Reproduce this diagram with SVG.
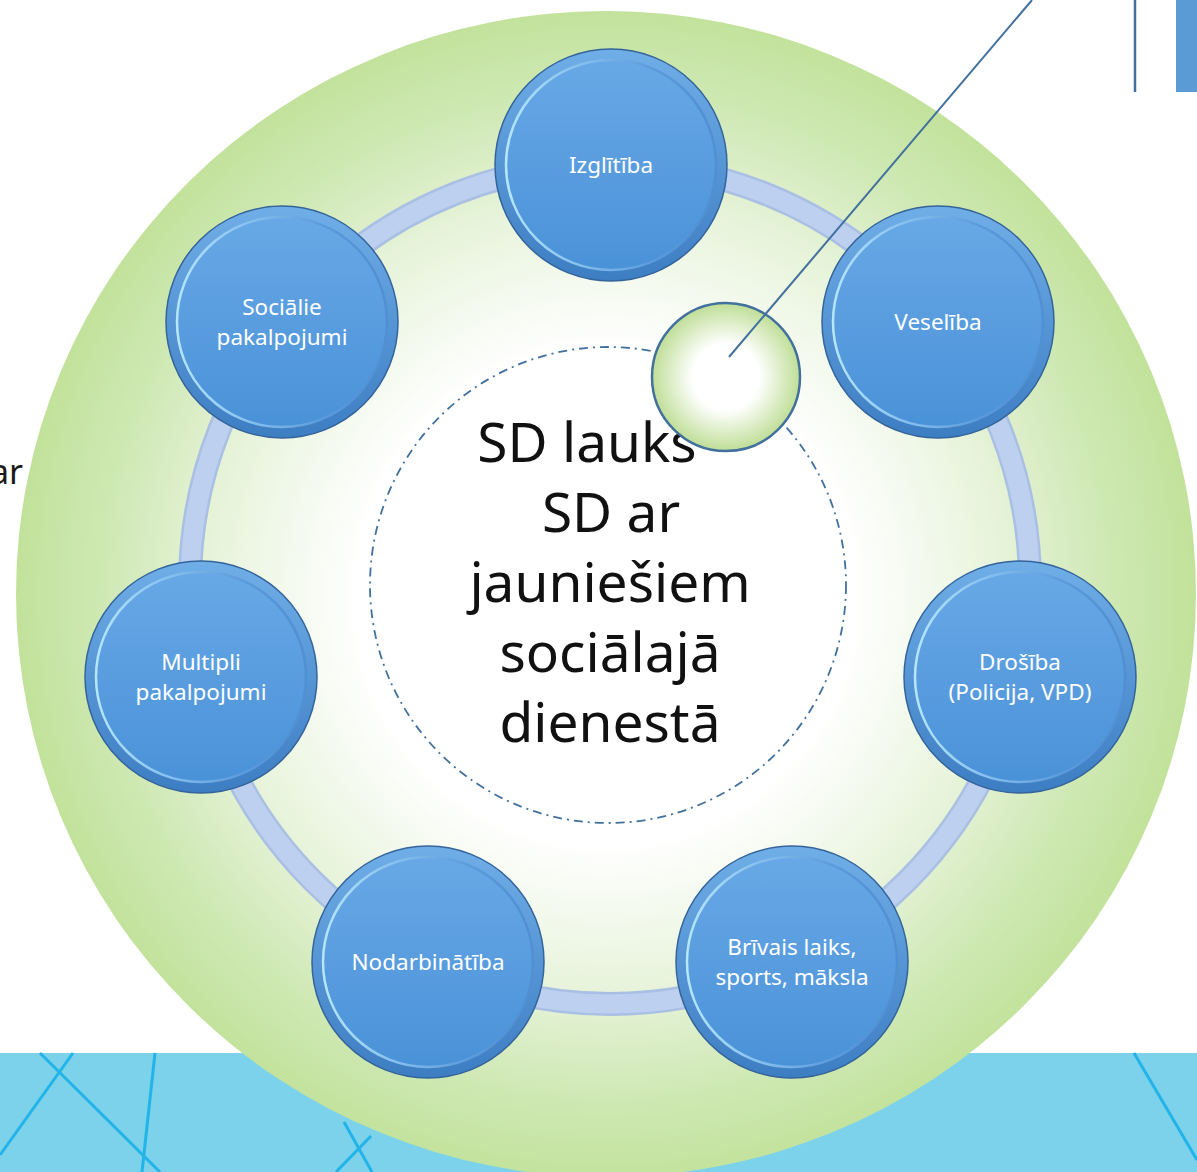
<svg xmlns="http://www.w3.org/2000/svg" width="1197" height="1172" viewBox="0 0 1197 1172">
<defs>
<radialGradient id="bigG" gradientUnits="userSpaceOnUse" cx="606" cy="596" r="590">
<stop offset="0" stop-color="#FFFFFF"/>
<stop offset="0.42" stop-color="#FFFFFF"/>
<stop offset="0.66" stop-color="#E8F4DC"/>
<stop offset="0.84" stop-color="#D0E9B6"/>
<stop offset="1" stop-color="#C2E29B"/>
</radialGradient>
<radialGradient id="smallG" cx="0.5" cy="0.5" r="0.5">
<stop offset="0" stop-color="#FFFFFF"/>
<stop offset="0.45" stop-color="#FFFFFF"/>
<stop offset="1" stop-color="#BFDE97"/>
</radialGradient>
<linearGradient id="rimG" x1="0" y1="0" x2="0" y2="1">
<stop offset="0" stop-color="#70AEE8"/>
<stop offset="1" stop-color="#3D7DC2"/>
</linearGradient>
<linearGradient id="faceG" x1="0" y1="0" x2="0" y2="1">
<stop offset="0" stop-color="#68A8E6"/>
<stop offset="1" stop-color="#4A92D8"/>
</linearGradient>
<linearGradient id="hiG" x1="0" y1="0.5" x2="1" y2="0.5">
<stop offset="0" stop-color="#B5E6FA"/>
<stop offset="0.35" stop-color="#86C0EE"/>
<stop offset="0.7" stop-color="#5B9ADB"/>
<stop offset="1" stop-color="#4F8FD2"/>
</linearGradient>
<g id="node">
<circle r="116" fill="url(#rimG)" stroke="#34649A" stroke-width="1.5"/>
<circle r="105" fill="url(#faceG)" stroke="url(#hiG)" stroke-width="2.5"/>
</g>
</defs>
<style>
.lbl{font-family:"Noto Sans","Open Sans","DejaVu Sans",sans-serif;font-size:22.5px;fill:#FFFFFF;text-anchor:middle}
.big{font-family:"Noto Sans","Open Sans","DejaVu Sans",sans-serif;font-size:55px;fill:#111111;text-anchor:middle}
.band{stroke:#22B4E8;stroke-width:3;fill:none}
</style>
<rect width="1197" height="1172" fill="#FFFFFF"/>
<g id="band">
<rect x="0" y="1053" width="1197" height="119" fill="#7BD2EA"/>
<line class="band" x1="40" y1="1053" x2="160" y2="1172"/>
<line class="band" x1="73" y1="1053" x2="0" y2="1155"/>
<line class="band" x1="155" y1="1053" x2="142" y2="1172"/>
<line class="band" x1="344" y1="1122" x2="372" y2="1172"/>
<line class="band" x1="371" y1="1136" x2="336" y2="1172"/>
<line class="band" x1="1134" y1="1053" x2="1197" y2="1160"/>
</g>
<text x="23" y="484" font-family="Noto Sans, sans-serif" font-size="34" fill="#1A1A1A" text-anchor="end">ar</text>
<ellipse id="outer-field" cx="606" cy="594" rx="590" ry="583" fill="url(#bigG)"/>
<g id="connectors">
<circle cx="610" cy="584" r="420" fill="none" stroke="#A9BFE3" stroke-width="24"/>
<circle cx="610" cy="584" r="420" fill="none" stroke="#BDD0EF" stroke-width="19"/>
</g>
<circle id="inner-ring" cx="608" cy="585" r="238" fill="none" stroke="#41719C" stroke-width="1.8" stroke-dasharray="9 5 2 5"/>
<g id="center">
<text class="big" x="587" y="462">SD lauks</text>
<text class="big" x="611" y="532">SD ar</text>
<text class="big" x="610" y="602">jauniešiem</text>
<text class="big" x="610" y="672">sociālajā</text>
<text class="big" x="610" y="742">dienestā</text>
</g>
<g id="n-izglitiba"><use href="#node" x="611" y="165"/><text class="lbl" x="611" y="173">Izglītība</text></g>
<g id="n-veseliba"><use href="#node" x="938" y="322"/><text class="lbl" x="938" y="330">Veselība</text></g>
<g id="n-drosiba"><use href="#node" x="1020" y="677"/><text class="lbl" x="1020" y="670">Drošība</text><text class="lbl" x="1020" y="700">(Policija, VPD)</text></g>
<g id="n-brivais"><use href="#node" x="792" y="962"/><text class="lbl" x="792" y="955">Brīvais laiks,</text><text class="lbl" x="792" y="985">sports, māksla</text></g>
<g id="n-nodarb"><use href="#node" x="428" y="962"/><text class="lbl" x="428" y="970">Nodarbinātība</text></g>
<g id="n-multipli"><use href="#node" x="201" y="677"/><text class="lbl" x="201" y="670">Multipli</text><text class="lbl" x="201" y="700">pakalpojumi</text></g>
<g id="n-socialie"><use href="#node" x="282" y="322"/><text class="lbl" x="282" y="315">Sociālie</text><text class="lbl" x="282" y="345">pakalpojumi</text></g>
<g id="n-small"><circle cx="726" cy="377" r="74" fill="url(#smallG)" stroke="#41719C" stroke-width="2.5"/></g>
<g id="callout">
<line x1="729" y1="357" x2="1032" y2="0" stroke="#41719C" stroke-width="2"/>
<line x1="1135" y1="0" x2="1135" y2="92" stroke="#41719C" stroke-width="2.5"/>
<rect x="1176" y="0" width="21" height="92" fill="#5B9BD5"/>
</g>
</svg>
